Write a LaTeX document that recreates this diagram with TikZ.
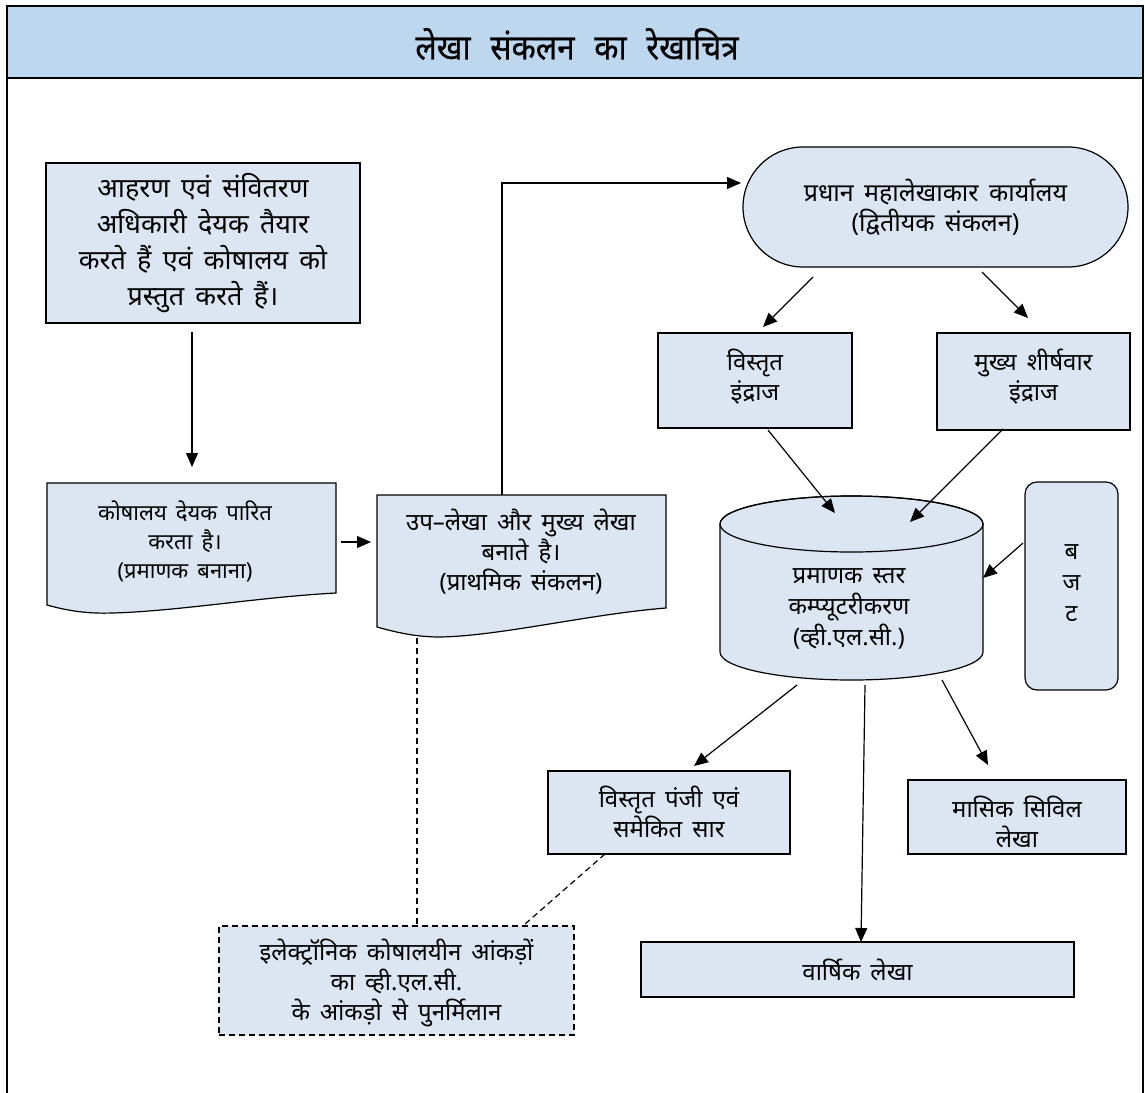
\documentclass[tikz,border=0pt]{standalone}
\usepackage{fontspec}
\newfontfamily\hindi[Script=Devanagari,WordSpace=1.6]{Noto Sans}
\newfontfamily\hindititle[Script=Devanagari,FakeStretch=0.9,FakeBold=0.6,WordSpace=2.4]{Noto Sans}
\usetikzlibrary{arrows.meta}
\definecolor{headblue}{HTML}{BDD7EE}
\definecolor{boxblue}{HTML}{DCE6F2}
\begin{document}
\begin{tikzpicture}[x=1pt,y=-1pt,
  boxshape/.style={draw=black,line width=1.2pt,fill=boxblue},
  txt/.style={align=center,inner sep=0pt,font=\hindi\fontsize{24}{30}\selectfont},
  boxnode/.style={boxshape,txt},
  arr/.style={-{Triangle[length=14pt,width=12pt]},line width=1.2pt},
  dline/.style={line width=1.2pt,dash pattern=on 6pt off 4pt}]
\useasboundingbox (0,0) rectangle (1145,1092);
% frame and header
\fill[headblue] (7,6) rectangle (1143,78);
\draw[line width=2pt] (7,1110) -- (7,6) -- (1143,6) -- (1143,1110);
\draw[line width=2pt] (7,78) -- (1143,78);
\node[inner sep=0pt,font=\hindititle\fontsize{35}{40}\selectfont] (title) at (577,44) {लेखा संकलन का रेखाचित्र};

% DDO box
\node[boxnode,minimum width=314pt,minimum height=160pt,font=\hindi\fontsize{27}{36}\selectfont] (ddo) at (203,243)
  {आहरण एवं संवितरण\\अधिकारी देयक तैयार\\करते हैं एवं कोषालय को\\प्रस्तुत करते हैं।};

% treasury document shape
\draw[boxshape] (47,483) -- (336,483) -- (336,593)
  .. controls (260,597) and (180,611) .. (113,613)
  .. controls (85,614) and (65,610) .. (47,605) -- cycle;
\node[txt,font=\hindi\fontsize{22}{29}\selectfont] (tre) at (185,541) {कोषालय देयक पारित\\करता है।\\(प्रमाणक बनाना)};

% sub accounts document shape
\draw[boxshape] (377,495) -- (666,495) -- (666,608)
  .. controls (590,614) and (500,636) .. (440,637)
  .. controls (415,637) and (395,632) .. (377,627) -- cycle;
\node[txt] (sub) at (521,552) {उप–लेखा और मुख्य लेखा\\बनाते है।\\(प्राथमिक संकलन)};

% terminal
\node[boxnode,minimum width=385pt,minimum height=120pt,rounded corners=60pt,font=\hindi\fontsize{25}{30}\selectfont] (term) at (935.5,207)
  {प्रधान महालेखाकार कार्यालय\\(द्वितीयक संकलन)};

% entry boxes
\node[boxnode,minimum width=194pt,minimum height=95pt] (vist) at (755,380.5) {};
\node[txt] (vistt) at (755,377) {विस्तृत\\इंद्राज};
\node[boxnode,minimum width=193pt,minimum height=97pt] (mukh) at (1033.5,381.5) {};
\node[txt] (mukht) at (1033.5,377) {मुख्य शीर्षवार\\इंद्राज};

% cylinder
\draw[boxshape] (720,524) -- (720,652) arc[start angle=180,end angle=0,x radius=131.5,y radius=28]
  -- (983,524) arc[start angle=0,end angle=-180,x radius=131.5,y radius=28] -- cycle;
\draw[line width=1.2pt] (851.5,524) ellipse[x radius=131.5,y radius=28];
\node[txt,font=\hindi\fontsize{24}{31}\selectfont] (cyl) at (849,609) {प्रमाणक स्तर\\कम्प्यूटरीकरण\\(व्ही.एल.सी.)};

% budget
\node[boxnode,minimum width=93pt,minimum height=208pt,rounded corners=12pt] (bud) at (1071.5,586) {};
\node[txt,font=\hindi\fontsize{24}{31}\selectfont] (budt) at (1071.5,583) {ब\\ज\\ट};

% outputs
\node[boxnode,minimum width=242pt,minimum height=83pt] (panji) at (669,812.5) {};
\node[txt] (panjit) at (669,812) {विस्तृत पंजी एवं\\समेकित सार};
\node[boxnode,minimum width=218pt,minimum height=74pt] (masik) at (1017,817) {};
\node[txt] (masikt) at (1017,822) {मासिक सिविल\\लेखा};
\node[boxnode,minimum width=433pt,minimum height=55pt] (varsh) at (857.5,969.5) {वार्षिक लेखा};

% reconciliation (dashed)
\node[boxshape,dline,minimum width=355pt,minimum height=109pt] (elec) at (396.5,980.5) {};
\node[txt] (elect) at (396.5,983) {इलेक्ट्रॉनिक कोषालयीन आंकड़ों\\का व्ही.एल.सी.\\के आंकड़ो से पुनर्मिलान};

% connector end points
\coordinate (c1a) at (192,332); \coordinate (c1b) at (192,467);
\coordinate (c2a) at (341,542); \coordinate (c2b) at (371,542);
\coordinate (c3a) at (502,495); \coordinate (c3b) at (741,183);
\coordinate (c4a) at (813,277); \coordinate (c4b) at (763,327);
\coordinate (c5a) at (982,272); \coordinate (c5b) at (1028,318);
\coordinate (c6a) at (768,430); \coordinate (c6b) at (835,513);
\coordinate (c7a) at (1003,429); \coordinate (c7b) at (910,522);
\coordinate (c8a) at (1023,543); \coordinate (c8b) at (983,578);
\coordinate (c9a) at (797,685); \coordinate (c9b) at (694,766);
\coordinate (c10a) at (865,685); \coordinate (c10b) at (861,942);
\coordinate (c11a) at (942,680); \coordinate (c11b) at (988,765);
\coordinate (d1a) at (417,638); \coordinate (d1b) at (417,926);
\coordinate (d2a) at (605,854); \coordinate (d2b) at (525,924);

\draw[arr] (c1a) -- (c1b);
\draw[arr] (c2a) -- (c2b);
\draw[arr] (c3a) |- (c3b);
\draw[arr] (c4a) -- (c4b);
\draw[arr] (c5a) -- (c5b);
\draw[arr] (c6a) -- (c6b);
\draw[arr] (c7a) -- (c7b);
\draw[arr] (c8a) -- (c8b);
\draw[arr] (c9a) -- (c9b);
\draw[arr] (c10a) -- (c10b);
\draw[arr] (c11a) -- (c11b);
\draw[dline] (d1a) -- (d1b);
\draw[dline] (d2a) -- (d2b);
\end{tikzpicture}
\end{document}
